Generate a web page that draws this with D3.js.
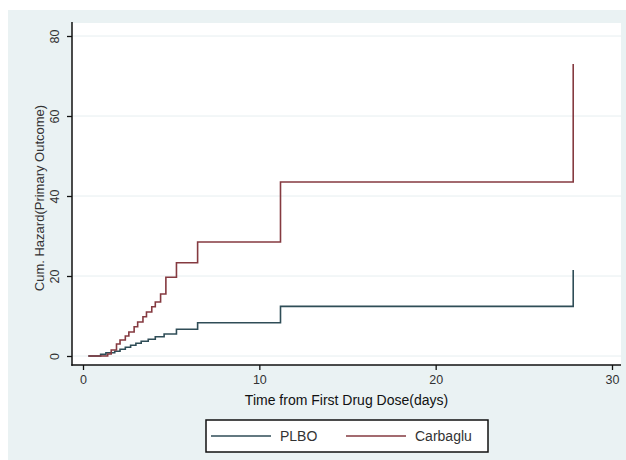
<!DOCTYPE html>
<html>
<head>
<meta charset="utf-8">
<script src="https://cdn.jsdelivr.net/npm/d3@7"></script>
<style>
  body { margin: 0; background: #fff; }
  text { font-family: "Liberation Sans", Arial, sans-serif; }
</style>
</head>
<body>
<script>
/* global d3 */

// cumulative hazard step points: [time, value after the step]
const plboTimes = [0.3, 1.0, 1.3, 1.8, 2.1, 2.4, 2.7, 3.0, 3.3, 3.7, 4.1, 4.6, 5.3, 6.5, 11.2, 27.8, 27.8]
const plboValues = [0, 0.4, 0.8, 1.2, 1.7, 2.2, 2.7, 3.2, 3.7, 4.2, 4.8, 5.5, 6.7, 8.3, 12.4, 12.4, 21.5]

const carbTimes = [0.3, 1.4, 1.6, 1.9, 2.1, 2.4, 2.6, 2.9, 3.1, 3.4, 3.6, 3.9, 4.1, 4.4, 4.7, 5.3, 6.5, 11.2, 27.8, 27.8]
const carbValues = [0, 0.5, 1.5, 3.0, 4.0, 5.0, 6.0, 7.3, 8.5, 9.8, 11.0, 12.3, 13.5, 15.5, 19.7, 23.3, 28.5, 43.5, 43.5, 73]

const xTicks = [0, 10, 20, 30]
const yTicks = [0, 20, 40, 60, 80]
const seriesNames = ['PLBO', 'Carbaglu']
const seriesColors = ['#2f4d57', '#853a40']

const w = 626, h = 460

const svg = d3.select('body').append('svg')
  .attr('width', w)
  .attr('height', h)

// stata-ish graph region
svg.append('rect')
  .attr('x', 8).attr('y', 10)
  .attr('width', w - 8).attr('height', h - 10)
  .attr('fill', '#eaf2f3')

const x = d3.scaleLinear().domain([0, 30]).range([83, 612])
const y = d3.scaleLinear().domain([0, 80]).range([356, 36])

const pl = 72, pr = 621, pt = 23, pb = 365

svg.append('rect')
  .attr('x', pl).attr('y', pt)
  .attr('width', pr - pl).attr('height', pb - pt)
  .attr('fill', '#fff')

// grid
svg.append('g')
  .selectAll('line')
  .data(yTicks)
  .enter().append('line')
    .attr('x1', pl).attr('x2', pr)
    .attr('y1', d => y(d)).attr('y2', d => y(d))
    .attr('stroke', '#e6eef0')
    .attr('stroke-width', 1)

// lines
const line = d3.line()
  .x(d => x(d[0]))
  .y(d => y(d[1]))
  .curve(d3.curveStepAfter)

const series = [
  d3.zip(plboTimes, plboValues),
  d3.zip(carbTimes, carbValues)
]

svg.append('g')
  .selectAll('path')
  .data(series)
  .enter().append('path')
    .attr('d', line)
    .attr('fill', 'none')
    .attr('stroke', (d, i) => seriesColors[i])
    .attr('stroke-width', 1.6)

// axes
const yAxis = svg.append('g')
  .attr('transform', `translate(${pl},0)`)
  .call(d3.axisLeft(y).tickValues(yTicks).tickSize(5).tickPadding(6))

yAxis.select('.domain').remove()
yAxis.selectAll('.tick line').attr('stroke', '#111').attr('stroke-width', 1.3)
yAxis.selectAll('.tick text')
  .attr('transform', 'rotate(-90)')
  .attr('x', 0)
  .attr('y', -13)
  .attr('dy', 0)
  .attr('text-anchor', 'middle')
  .attr('fill', '#333')
  .style('font-size', '12.5px')

const xAxis = svg.append('g')
  .attr('transform', `translate(0,${pb})`)
  .call(d3.axisBottom(x).tickValues(xTicks).tickSize(5).tickPadding(5))

xAxis.select('.domain').remove()
xAxis.selectAll('.tick line').attr('stroke', '#111').attr('stroke-width', 1.3)
xAxis.selectAll('.tick text')
  .attr('fill', '#333')
  .style('font-size', '12.5px')

svg.append('line')
  .attr('x1', pl).attr('x2', pl)
  .attr('y1', pt - 1).attr('y2', pb + 0.7)
  .attr('stroke', '#111').attr('stroke-width', 1.5)

svg.append('line')
  .attr('x1', pl - 0.7).attr('x2', pr)
  .attr('y1', pb).attr('y2', pb)
  .attr('stroke', '#111').attr('stroke-width', 1.5)

// titles
svg.append('text')
  .attr('transform', `translate(44,${(pt + pb) / 2 + 4}) rotate(-90)`)
  .attr('text-anchor', 'middle')
  .attr('fill', '#333')
  .style('font-size', '13px')
  .text('Cum. Hazard(Primary Outcome)')

svg.append('text')
  .attr('x', (pl + pr) / 2)
  .attr('y', 405)
  .attr('text-anchor', 'middle')
  .attr('fill', '#111')
  .style('font-size', '14px')
  .text('Time from First Drug Dose(days)')

// legend
const legend = svg.append('g')

legend.append('rect')
  .attr('x', 206).attr('y', 420)
  .attr('width', 282).attr('height', 32)
  .attr('fill', '#fff')
  .attr('stroke', '#111')
  .attr('stroke-width', 1.5)

const items = legend.selectAll('g.item')
  .data(seriesNames)
  .enter().append('g')
    .attr('class', 'item')
    .attr('transform', (d, i) => `translate(${i === 0 ? 211 : 346},436)`)

items.append('line')
  .attr('x1', 0).attr('x2', 60)
  .attr('stroke', (d, i) => seriesColors[i])
  .attr('stroke-width', 1.6)

items.append('text')
  .attr('x', 69)
  .attr('dy', '0.35em')
  .attr('fill', '#333')
  .style('font-size', '14px')
  .text(d => d)
</script>
</body>
</html>
